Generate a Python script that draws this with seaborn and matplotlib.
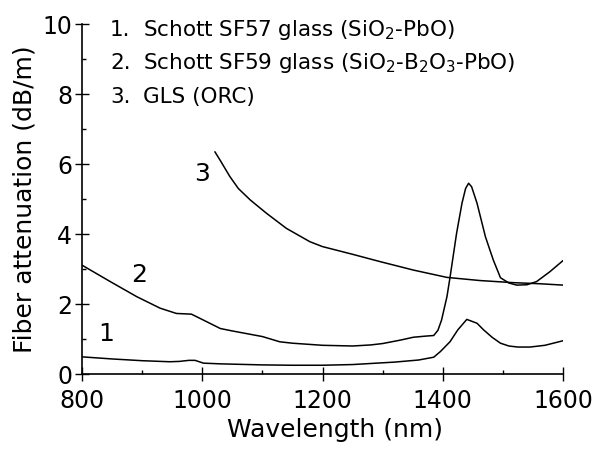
import matplotlib
matplotlib.use("Agg")
import matplotlib.pyplot as plt
import seaborn as sns
import pandas as pd
from matplotlib.ticker import MultipleLocator

# ---- data ----
wl_sf57 = [800, 850, 900, 946, 962, 978, 988, 1002, 1030, 1100, 1150, 1200, 1250,
           1280, 1320, 1360, 1385, 1396, 1412, 1425, 1440, 1457, 1468, 1482, 1496,
           1510, 1525, 1545, 1570, 1600]
att_sf57 = [0.49, 0.43, 0.38, 0.35, 0.36, 0.39, 0.39, 0.31, 0.29, 0.26, 0.25, 0.25,
            0.27, 0.30, 0.34, 0.40, 0.48, 0.64, 0.92, 1.26, 1.56, 1.45, 1.26, 1.05,
            0.88, 0.80, 0.77, 0.77, 0.82, 0.95]

wl_sf59 = [800, 847, 891, 930, 957, 982, 1002, 1030, 1050, 1100, 1129, 1150, 1200,
           1250, 1280, 1300, 1330, 1351, 1370, 1385, 1392, 1398, 1407, 1412, 1423,
           1432, 1438, 1443, 1448, 1457, 1471, 1484, 1496, 1510, 1523, 1540, 1556,
           1578, 1600]
att_sf59 = [3.11, 2.64, 2.21, 1.88, 1.73, 1.71, 1.54, 1.30, 1.23, 1.07, 0.92, 0.88,
            0.82, 0.80, 0.83, 0.87, 0.97, 1.05, 1.08, 1.10, 1.25, 1.54, 2.21, 2.75,
            4.02, 4.88, 5.30, 5.45, 5.35, 4.88, 3.92, 3.26, 2.75, 2.60, 2.54, 2.55,
            2.64, 2.92, 3.24]

wl_gls = [1021, 1030, 1046, 1060, 1080, 1107, 1140, 1179, 1200, 1250, 1296, 1351,
          1407, 1462, 1517, 1560, 1600]
att_gls = [6.35, 6.10, 5.64, 5.30, 4.97, 4.59, 4.16, 3.78, 3.64, 3.42, 3.21, 2.97,
           2.76, 2.67, 2.61, 2.58, 2.54]

legend_nums = ["1.", "2.", "3."]
legend_texts = [r"Schott SF57 glass (SiO$_2$-PbO)",
                r"Schott SF59 glass (SiO$_2$-B$_2$O$_3$-PbO)",
                "GLS (ORC)"]
curve_labels = ["1", "2", "3"]
curve_label_pos = [(840, 1.14), (895, 2.83), (999, 5.71)]

x_label = "Wavelength (nm)"
y_label = "Fiber attenuation (dB/m)"

# ---- build table ----
frames = []
for name, w, a in [("1", wl_sf57, att_sf57), ("2", wl_sf59, att_sf59), ("3", wl_gls, att_gls)]:
    frames.append(pd.DataFrame({"wl": w, "att": a, "curve": name}))
df = pd.concat(frames, ignore_index=True)

sns.set_theme(style="ticks")
plt.rcParams["font.family"] = ["DejaVu Sans"]
plt.rcParams["mathtext.fontset"] = "dejavusans"

fig = plt.figure(figsize=(5.98, 4.49), dpi=100)
ax = fig.add_axes([82 / 598, 75 / 449, 481 / 598, 350 / 449])

sns.lineplot(data=df, x="wl", y="att", units="curve", estimator=None,
             color="black", linewidth=1.1, ax=ax, sort=False)

ax.set_xlim(800, 1600)
ax.set_ylim(0, 10)
ax.xaxis.set_major_locator(MultipleLocator(200))
ax.xaxis.set_minor_locator(MultipleLocator(100))
ax.yaxis.set_major_locator(MultipleLocator(2))
ax.yaxis.set_minor_locator(MultipleLocator(1))

sns.despine(ax=ax)
for s in ["left", "bottom"]:
    ax.spines[s].set_linewidth(1.2)
    ax.spines[s].set_color("black")

ax.tick_params(which="major", direction="inout", length=10, width=1.0,
               colors="black", labelsize=17)
ax.tick_params(axis="x", which="major", pad=6)
ax.tick_params(axis="y", which="major", pad=2)
ax.tick_params(which="minor", direction="in", length=3, width=1.0, colors="black")

ax.set_xlabel(x_label, fontsize=18, color="black", va="top")
ax.xaxis.set_label_coords(0.526, -0.125)
ax.set_ylabel(y_label, fontsize=18, labelpad=4, color="black")

# legend-like text block
baselines = [0.966, 0.871, 0.774]
for num, txt, yb in zip(legend_nums, legend_texts, baselines):
    ax.text(28 / 481, yb, num, transform=ax.transAxes, fontsize=15.5,
            va="baseline", ha="left", color="black")
    ax.text(61 / 481, yb, txt, transform=ax.transAxes, fontsize=15.5,
            va="baseline", ha="left", color="black")

for lab, (xx, yy) in zip(curve_labels, curve_label_pos):
    ax.text(xx, yy, lab, fontsize=18, ha="center", va="center", color="black")

fig.savefig("out.png", dpi=100)
